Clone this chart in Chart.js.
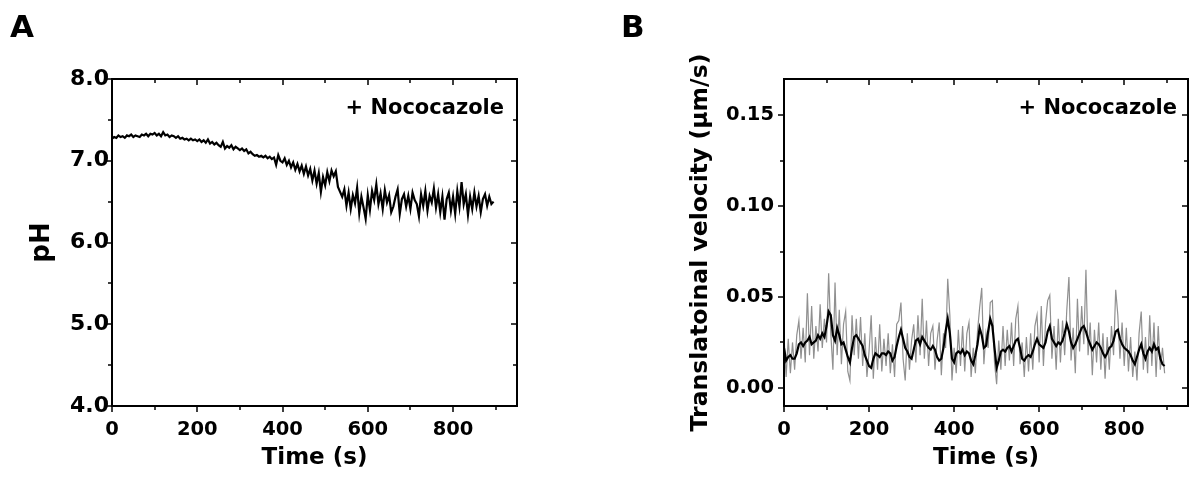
<!DOCTYPE html>
<html>
<head>
<meta charset="utf-8">
<script src="https://cdn.jsdelivr.net/npm/chart.js@4.4.0/dist/chart.umd.min.js"></script>
<style>
  html, body { margin: 0; padding: 0; background: #fff; }
  body { width: 1195px; height: 480px; position: relative; overflow: hidden; }
  .panel { position: absolute; top: 0; height: 480px; }
  #wrapA { left: 0; width: 590px; }
  #wrapB { left: 600px; width: 595px; }
  .tag { position: absolute; font: bold 31px/31px "DejaVu Sans", sans-serif; color: #000; }
</style>
</head>
<body>
<div id="wrapA" class="panel"><canvas id="phChart"></canvas></div>
<div id="wrapB" class="panel"><canvas id="velChart"></canvas></div>
<div class="tag" style="left:10px;top:11px">A</div>
<div class="tag" style="left:621px;top:11px">B</div>
<script>
// sampling interval of both recordings (s)
const sampleStep = 5
const timeTicks = [0, 200, 400, 600, 800]
const timeMinor = [100, 300, 500, 700, 900]
const phTicks = [4, 5, 6, 7, 8]
const phMinor = [4.5, 5.5, 6.5, 7.5]
const velTicks = [0, 0.05, 0.10, 0.15]
const velMinor = [0.025, 0.075, 0.125]

// panel A - pH
const phValues = [
  7.27, 7.29, 7.28, 7.31, 7.29, 7.30, 7.28, 7.31, 7.30, 7.32,
  7.29, 7.31, 7.30, 7.29, 7.32, 7.31, 7.33, 7.30, 7.33, 7.32,
  7.34, 7.31, 7.33, 7.30, 7.35, 7.31, 7.32, 7.29, 7.31, 7.30,
  7.28, 7.30, 7.27, 7.28, 7.26, 7.27, 7.25, 7.27, 7.25, 7.26,
  7.24, 7.26, 7.23, 7.25, 7.22, 7.26, 7.21, 7.23, 7.20, 7.22,
  7.19, 7.17, 7.23, 7.15, 7.18, 7.16, 7.19, 7.14, 7.17, 7.15,
  7.13, 7.15, 7.12, 7.14, 7.09, 7.11, 7.08, 7.06, 7.07, 7.05,
  7.06, 7.04, 7.06, 7.03, 7.05, 7.02, 7.04, 6.95, 7.07, 7.00,
  6.98, 7.03, 6.95, 7.00, 6.92, 6.98, 6.89, 6.96, 6.87, 6.94,
  6.84, 6.93, 6.82, 6.90, 6.76, 6.88, 6.72, 6.85, 6.62, 6.80,
  6.70, 6.86, 6.75, 6.88, 6.81, 6.87, 6.68, 6.62, 6.56, 6.65,
  6.45, 6.61, 6.41, 6.58, 6.48, 6.67, 6.36, 6.56, 6.43, 6.29,
  6.58, 6.40, 6.63, 6.52, 6.71, 6.47, 6.60, 6.41, 6.64, 6.49,
  6.58, 6.37, 6.44, 6.56, 6.65, 6.35, 6.53, 6.59, 6.44, 6.57,
  6.41, 6.61, 6.52, 6.47, 6.32, 6.59, 6.45, 6.63, 6.39, 6.57,
  6.49, 6.66, 6.43, 6.59, 6.37, 6.56, 6.28, 6.53, 6.61, 6.39,
  6.56, 6.35, 6.63, 6.44, 6.74, 6.47, 6.59, 6.34, 6.56, 6.41,
  6.61, 6.44, 6.57, 6.37, 6.53, 6.59, 6.45, 6.56, 6.47, 6.50
]

// panel B - raw velocity (grey)
const velRaw = [
  0.028, 0.006, 0.027, 0.008, 0.025, 0.010, 0.029, 0.037, 0.016, 0.033,
  0.014, 0.052, 0.018, 0.045, 0.016, 0.034, 0.020, 0.046, 0.022, 0.038,
  0.025, 0.063, 0.030, 0.010, 0.058, 0.018, 0.043, 0.013, 0.035, 0.042,
  0.009, 0.004, 0.040, 0.018, 0.038, 0.016, 0.039, 0.012, 0.030, 0.006,
  0.020, 0.040, 0.005, 0.028, 0.010, 0.035, 0.009, 0.027, 0.012, 0.030,
  0.008, 0.024, 0.006, 0.035, 0.037, 0.047, 0.016, 0.004, 0.030, 0.010,
  0.026, 0.035, 0.014, 0.040, 0.018, 0.049, 0.016, 0.037, 0.012, 0.030,
  0.034, 0.010, 0.026, 0.036, 0.007, 0.030, 0.022, 0.060, 0.040, 0.004,
  0.022, 0.008, 0.032, 0.012, 0.034, 0.009, 0.030, 0.036, 0.006, 0.022,
  0.008, 0.031, 0.044, 0.055, 0.013, 0.030, 0.022, 0.047, 0.048, 0.014,
  0.002, 0.026, 0.010, 0.034, 0.012, 0.032, 0.015, 0.036, 0.012, 0.038,
  0.045, 0.013, 0.025, 0.006, 0.028, 0.009, 0.030, 0.010, 0.034, 0.040,
  0.014, 0.045, 0.012, 0.036, 0.048, 0.051, 0.016, 0.034, 0.010, 0.038,
  0.014, 0.037, 0.018, 0.043, 0.061, 0.015, 0.033, 0.008, 0.049, 0.020,
  0.045, 0.024, 0.065, 0.018, 0.036, 0.007, 0.032, 0.014, 0.036, 0.010,
  0.030, 0.005, 0.028, 0.010, 0.034, 0.018, 0.054, 0.040, 0.016, 0.036,
  0.012, 0.033, 0.009, 0.028, 0.006, 0.020, 0.004, 0.030, 0.042, 0.010,
  0.028, 0.008, 0.040, 0.012, 0.036, 0.006, 0.034, 0.010, 0.022, 0.008
]

// panel B - smoothed velocity (black)
const velSmooth = [
  0.022, 0.015, 0.017, 0.018, 0.016, 0.016, 0.019, 0.024, 0.025, 0.023,
  0.025, 0.026, 0.028, 0.024, 0.025, 0.026, 0.029, 0.027, 0.030, 0.028,
  0.034, 0.042, 0.040, 0.029, 0.026, 0.033, 0.029, 0.024, 0.025, 0.021,
  0.017, 0.014, 0.022, 0.028, 0.029, 0.027, 0.025, 0.023, 0.018, 0.015,
  0.012, 0.011, 0.016, 0.019, 0.018, 0.017, 0.019, 0.019, 0.018, 0.020,
  0.019, 0.015, 0.017, 0.023, 0.028, 0.032, 0.027, 0.022, 0.020, 0.017,
  0.016, 0.021, 0.026, 0.027, 0.024, 0.028, 0.026, 0.024, 0.022, 0.021,
  0.023, 0.021, 0.017, 0.015, 0.016, 0.022, 0.031, 0.038, 0.030, 0.016,
  0.014, 0.019, 0.020, 0.019, 0.021, 0.018, 0.020, 0.019, 0.015, 0.013,
  0.018, 0.024, 0.033, 0.029, 0.022, 0.023, 0.031, 0.038, 0.034, 0.022,
  0.011, 0.015, 0.020, 0.021, 0.020, 0.022, 0.023, 0.020, 0.023, 0.026,
  0.027, 0.022, 0.016, 0.015, 0.017, 0.018, 0.017, 0.020, 0.024, 0.027,
  0.024, 0.023, 0.022, 0.025, 0.031, 0.034, 0.027, 0.025, 0.023, 0.025,
  0.024, 0.026, 0.030, 0.035, 0.031, 0.025, 0.022, 0.024, 0.027, 0.030,
  0.033, 0.034, 0.031, 0.027, 0.024, 0.021, 0.023, 0.025, 0.024, 0.022,
  0.019, 0.017, 0.019, 0.022, 0.023, 0.026, 0.031, 0.032, 0.027, 0.024,
  0.022, 0.021, 0.020, 0.018, 0.015, 0.013, 0.017, 0.021, 0.024, 0.019,
  0.016, 0.020, 0.022, 0.020, 0.024, 0.021, 0.022, 0.016, 0.013, 0.012
]

const toPoints = arr => arr.map((v, i) => ({ x: i * sampleStep, y: v }))

const tickFont = { family: '"DejaVu Sans", sans-serif', size: 19.5, weight: 'bold' }
const titleFont = { family: '"DejaVu Sans", sans-serif', size: 23, weight: 'bold' }

// Origin-style box: outward ticks on bottom/left, mirrored inward on top/right
const framePlugin = {
  id: 'frame',
  afterDraw(chart, args, opts) {
    const { ctx, chartArea: a, scales: { x, y } } = chart
    ctx.save()
    ctx.strokeStyle = '#000'
    ctx.lineWidth = 2
    ctx.strokeRect(a.left, a.top, a.right - a.left, a.bottom - a.top)
    ctx.lineWidth = 1.5
    ctx.beginPath()
    const xMarks = (vals, len) => vals.forEach(v => {
      const px = Math.round(x.getPixelForValue(v))
      ctx.moveTo(px, a.bottom); ctx.lineTo(px, a.bottom + len)
      ctx.moveTo(px, a.top); ctx.lineTo(px, a.top + len)
    })
    const yMarks = (vals, len) => vals.forEach(v => {
      const py = Math.round(y.getPixelForValue(v))
      ctx.moveTo(a.left - len, py); ctx.lineTo(a.left, py)
      ctx.moveTo(a.right - len, py); ctx.lineTo(a.right, py)
    })
    xMarks(opts.xMajor, 6); xMarks(opts.xMinor, 4)
    yMarks(opts.yMajor, 6); yMarks(opts.yMinor, 4)
    ctx.stroke()
    ctx.fillStyle = '#000'
    ctx.font = 'bold 21px "DejaVu Sans", sans-serif'
    ctx.textAlign = 'right'
    ctx.textBaseline = 'middle'
    ctx.fillText(opts.note, a.right - opts.noteInset, a.top + 30)
    ctx.restore()
  }
}

const makeChart = (canvasId, c) => new Chart(document.getElementById(canvasId), {
  type: 'line',
  data: { datasets: c.datasets },
  options: {
    responsive: true,
    maintainAspectRatio: false,
    animation: false,
    layout: { padding: { top: 79, right: c.padRight, left: 0, bottom: 0 } },
    plugins: {
      legend: { display: false },
      tooltip: { enabled: false },
      frame: {
        xMajor: timeTicks, xMinor: timeMinor,
        yMajor: c.yTicks, yMinor: c.yMinor,
        note: '+ Nococazole', noteInset: c.noteInset
      }
    },
    scales: {
      x: {
        type: 'linear', min: 0, max: 950,
        grid: { display: false, drawTicks: false },
        border: { display: false },
        ticks: { font: tickFont, color: '#000', padding: 12, autoSkip: false, maxRotation: 0 },
        afterBuildTicks: s => { s.ticks = timeTicks.map(v => ({ value: v })) },
        afterFit: s => { s.height = 74 },
        title: { display: true, text: 'Time (s)', color: '#000', font: titleFont, padding: { top: 0, bottom: 8 } }
      },
      y: {
        type: 'linear', min: c.yMin, max: c.yMax,
        grid: { display: false, drawTicks: false },
        border: { display: false },
        ticks: { font: c.yTickFont || tickFont, color: '#000', padding: c.yPad, autoSkip: false, callback: v => v.toFixed(c.digits) },
        afterBuildTicks: s => { s.ticks = c.yTicks.map(v => ({ value: v })) },
        afterFit: s => { s.width = c.yWidth },
        title: { display: true, text: c.yTitle, color: '#000', font: c.yTitleFont, padding: { top: c.yTitlePad, bottom: 0 } }
      }
    }
  },
  plugins: [framePlugin]
})

makeChart('phChart', {
  datasets: [{ data: toPoints(phValues), borderColor: '#000', borderWidth: 2.2, pointRadius: 0, tension: 0 }],
  padRight: 73, yWidth: 112, yPad: 3,
  yMin: 4, yMax: 8, yTicks: phTicks, yMinor: phMinor, digits: 1,
  yTickFont: { ...tickFont, size: 22 },
  yTitle: 'pH', yTitleFont: { ...titleFont, size: 26 }, yTitlePad: 27, noteInset: 13
})

makeChart('velChart', {
  datasets: [
    { data: toPoints(velSmooth), borderColor: '#000', borderWidth: 2.2, pointRadius: 0, tension: 0 },
    { data: toPoints(velRaw), borderColor: '#909090', borderWidth: 1.2, pointRadius: 0, tension: 0 }
  ],
  padRight: 7, yWidth: 184, yPad: 10,
  yMin: -0.01, yMax: 0.17, yTicks: velTicks, yMinor: velMinor, digits: 2,
  yTitle: 'Translatoinal velocity (\u03bcm/s)', yTitleFont: { ...titleFont, size: 23.5 }, yTitlePad: 87, noteInset: 11
})
</script>
</body>
</html>
